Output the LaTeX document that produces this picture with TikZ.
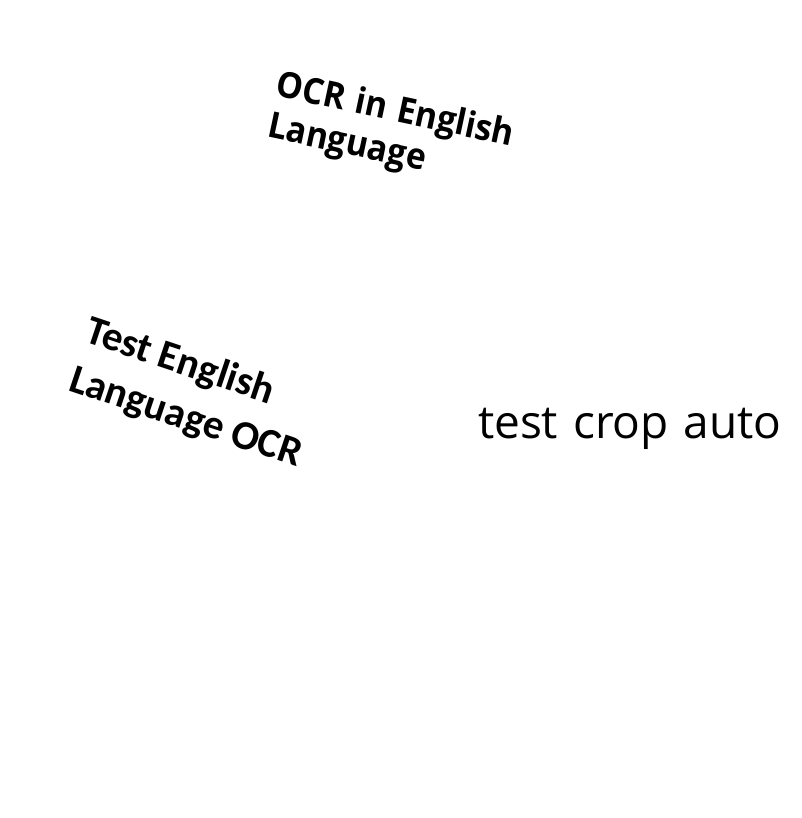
\documentclass[tikz,border=0pt]{standalone}
\usepackage{fontspec}
\usepackage{tikz}
\newfontfamily\gothfont[WordSpace=1.25]{Open Sans}
\newfontfamily\gothboldfont[FakeStretch=0.93,WordSpace=1.2]{Open Sans Bold}
\newfontfamily\calfont{Carlito}

\begin{document}
\begin{tikzpicture}[x=1pt,y=-1pt,
    txt/.style={inner sep=0pt,outer sep=0pt,anchor=base west,align=left}]
    \useasboundingbox (0,0) rectangle (801,818);
    % base west is the baseline of the last line
    \node[txt,rotate=-12,font=\gothboldfont\fontsize{36}{42}\selectfont] (ocr) at (266,137){OCR in English\\Language};
    \node[txt,rotate=-18.5,font=\calfont\bfseries\fontsize{41}{51}\selectfont] (tst) at (67,390){Test English\\Language OCR};
    \node[txt,font=\gothfont\fontsize{46}{50}\selectfont] (crp) at (478,438){test crop auto};
\end{tikzpicture}
\end{document}
